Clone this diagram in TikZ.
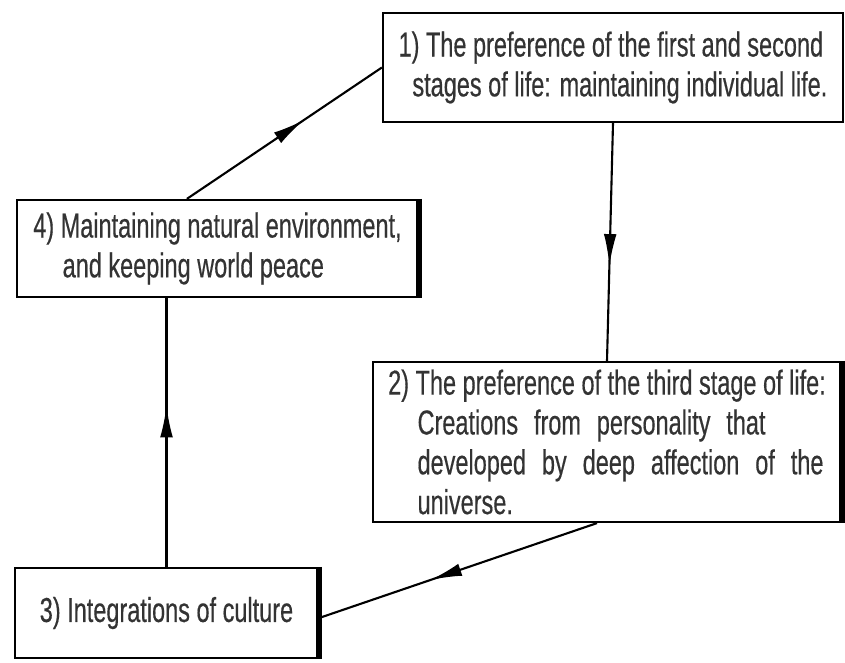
\documentclass[tikz,border=0pt]{standalone}
\usepackage{fontspec}
\usetikzlibrary{arrows.meta,decorations.markings}
\newfontfamily\stagefont[FakeStretch=0.68,FakeBold=0.4]{Liberation Sans}

\begin{document}
\begin{tikzpicture}[
        stage/.style={draw, line width=1.9pt, align=left, inner sep=0pt,
            font=\stagefont\fontsize{29.5}{34}\selectfont, text=black!80},
        heavy/.style={line width=5pt},
        flow/.style={line width=1.8pt, postaction={decorate},
            decoration={markings, mark=at position 0.6 with
                {\arrow{Latex[length=0.95cm,width=0.38cm]}}}}
    ]
                \useasboundingbox (0,0) rectangle (25.35,19.86);

                \node[stage, minimum width=13.8cm, minimum height=3.27cm] (pref12) at (18.39,17.835)
                    {1) The preference of the first and second\\\hspace*{0.4em}stages of life: maintaining individual life.};
                \node[stage, minimum width=14.04cm, minimum height=4.8cm] (pref3) at (18.21,6.6)
                    {2) The preference of the third stage of life:\\
                     \hspace*{0.85em}\makebox[10.44cm][s]{Creations from personality that}\\
                     \hspace*{0.85em}\makebox[12.18cm][s]{developed by deep affection of the}\\
                     \hspace*{0.85em}universe.};
                \node[stage, minimum width=9.09cm, minimum height=2.7cm] (culture) at (4.995,1.47)
                    {3) Integrations of culture};
                \node[stage, minimum width=12.03cm, minimum height=2.91cm] (nature) at (6.525,12.405)
                    {4) Maintaining natural environment,\\\hspace*{0.85em}and keeping world peace};

                \draw[heavy] (pref3.north east) to (pref3.south east);
                \draw[heavy] (culture.north east) to (culture.south east);
                \draw[heavy] (nature.north east) to (nature.south east);

                \draw[flow] ([xshift=5.13cm]nature.north west) to (pref12.west);
                \draw[flow] (pref12.south) to (pref3.north);
                \draw[flow] ([xshift=-0.3cm]pref3.south) to ([yshift=-0.15cm]culture.east);
                \draw[flow] (culture.north) to (culture.north |- nature.south);
            \end{tikzpicture}
\end{document}
